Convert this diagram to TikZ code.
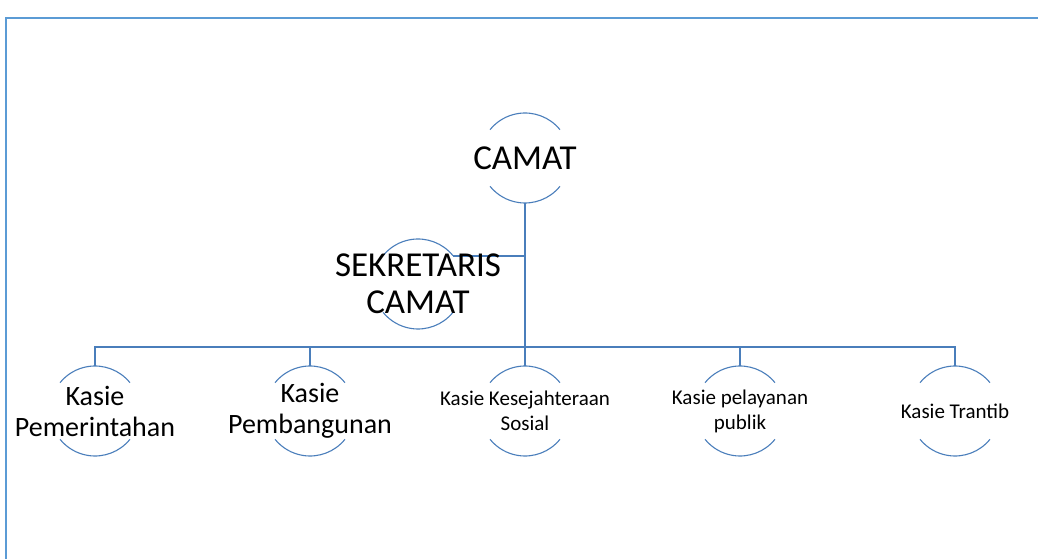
\documentclass[tikz,border=0pt]{standalone}
\usepackage{fontspec}
\setmainfont{Carlito}
\usetikzlibrary{calc}
\definecolor{arcblue}{HTML}{4A7EBB}
\definecolor{frameblue}{HTML}{5B9BD5}
\tikzset{
  orb/.style={circle, minimum size=90pt, inner sep=0pt, outer sep=0pt},
  arcline/.style={draw=arcblue, line width=1.1pt},
  conn/.style={draw=arcblue, line width=1.8pt},
  frameline/.style={draw=frameblue, line width=1.8pt},
  big/.style={font=\fontsize{35}{37}\selectfont, align=center, inner sep=0pt},
  mid/.style={font=\fontsize{28}{31}\selectfont, align=center, inner sep=0pt},
  small/.style={font=\fontsize{21}{25}\selectfont, align=center, inner sep=0pt},
}
\newcommand\orbarcs[1]{%
  \draw[arcline] (#1.39) arc[start angle=39,end angle=141,radius=45pt];
  \draw[arcline] (#1.-39) arc[start angle=-39,end angle=-141,radius=45pt];}
\begin{document}
\begin{tikzpicture}[x=1pt,y=1pt]
\useasboundingbox[fill=white] (0,0) rectangle (1038,559);
% frame
\draw[frameline] (6,-5) -- (6,541) -- (1045,541);
% orbs
\node[orb] (camat) at (525,401) {};
\node[orb] (sek) at (418,275) {};
\node[orb] (k1) at (95,148) {};
\node[orb] (k2) at (310,148) {};
\node[orb] (k3) at (525,148) {};
\node[orb] (k4) at (740,148) {};
\node[orb] (k5) at (955,148) {};
\foreach \n in {camat,sek,k1,k2,k3,k4,k5}{\orbarcs{\n}}
\coordinate (bus) at (525,212);
% connectors
\draw[conn] (camat.south) -- (k3.north);
\draw[conn] (sek.39) -- (sek.39 -| camat.south);
\draw[conn] (k1.north) |- (bus) -| (k5.north);
\draw[conn] (k2.north) -- (k2.north |- bus);
\draw[conn] (k4.north) -- (k4.north |- bus);
% texts
\node[big] (tcamat) at (camat.center) {CAMAT};
\node[big] (tsek) at (sek.center) {SEKRETARIS\\CAMAT};
\node[mid] (t1) at (k1.center) {Kasie\\Pemerintahan};
\node[mid] (t2) at (k2.center) {Kasie\\Pembangunan};
\node[small] (t3) at (k3.center) {Kasie Kesejahteraan\\Sosial};
\node[small] (t4) at (k4.center) {Kasie pelayanan\\publik};
\node[small] (t5) at (k5.center) {Kasie Trantib};
\end{tikzpicture}
\end{document}
